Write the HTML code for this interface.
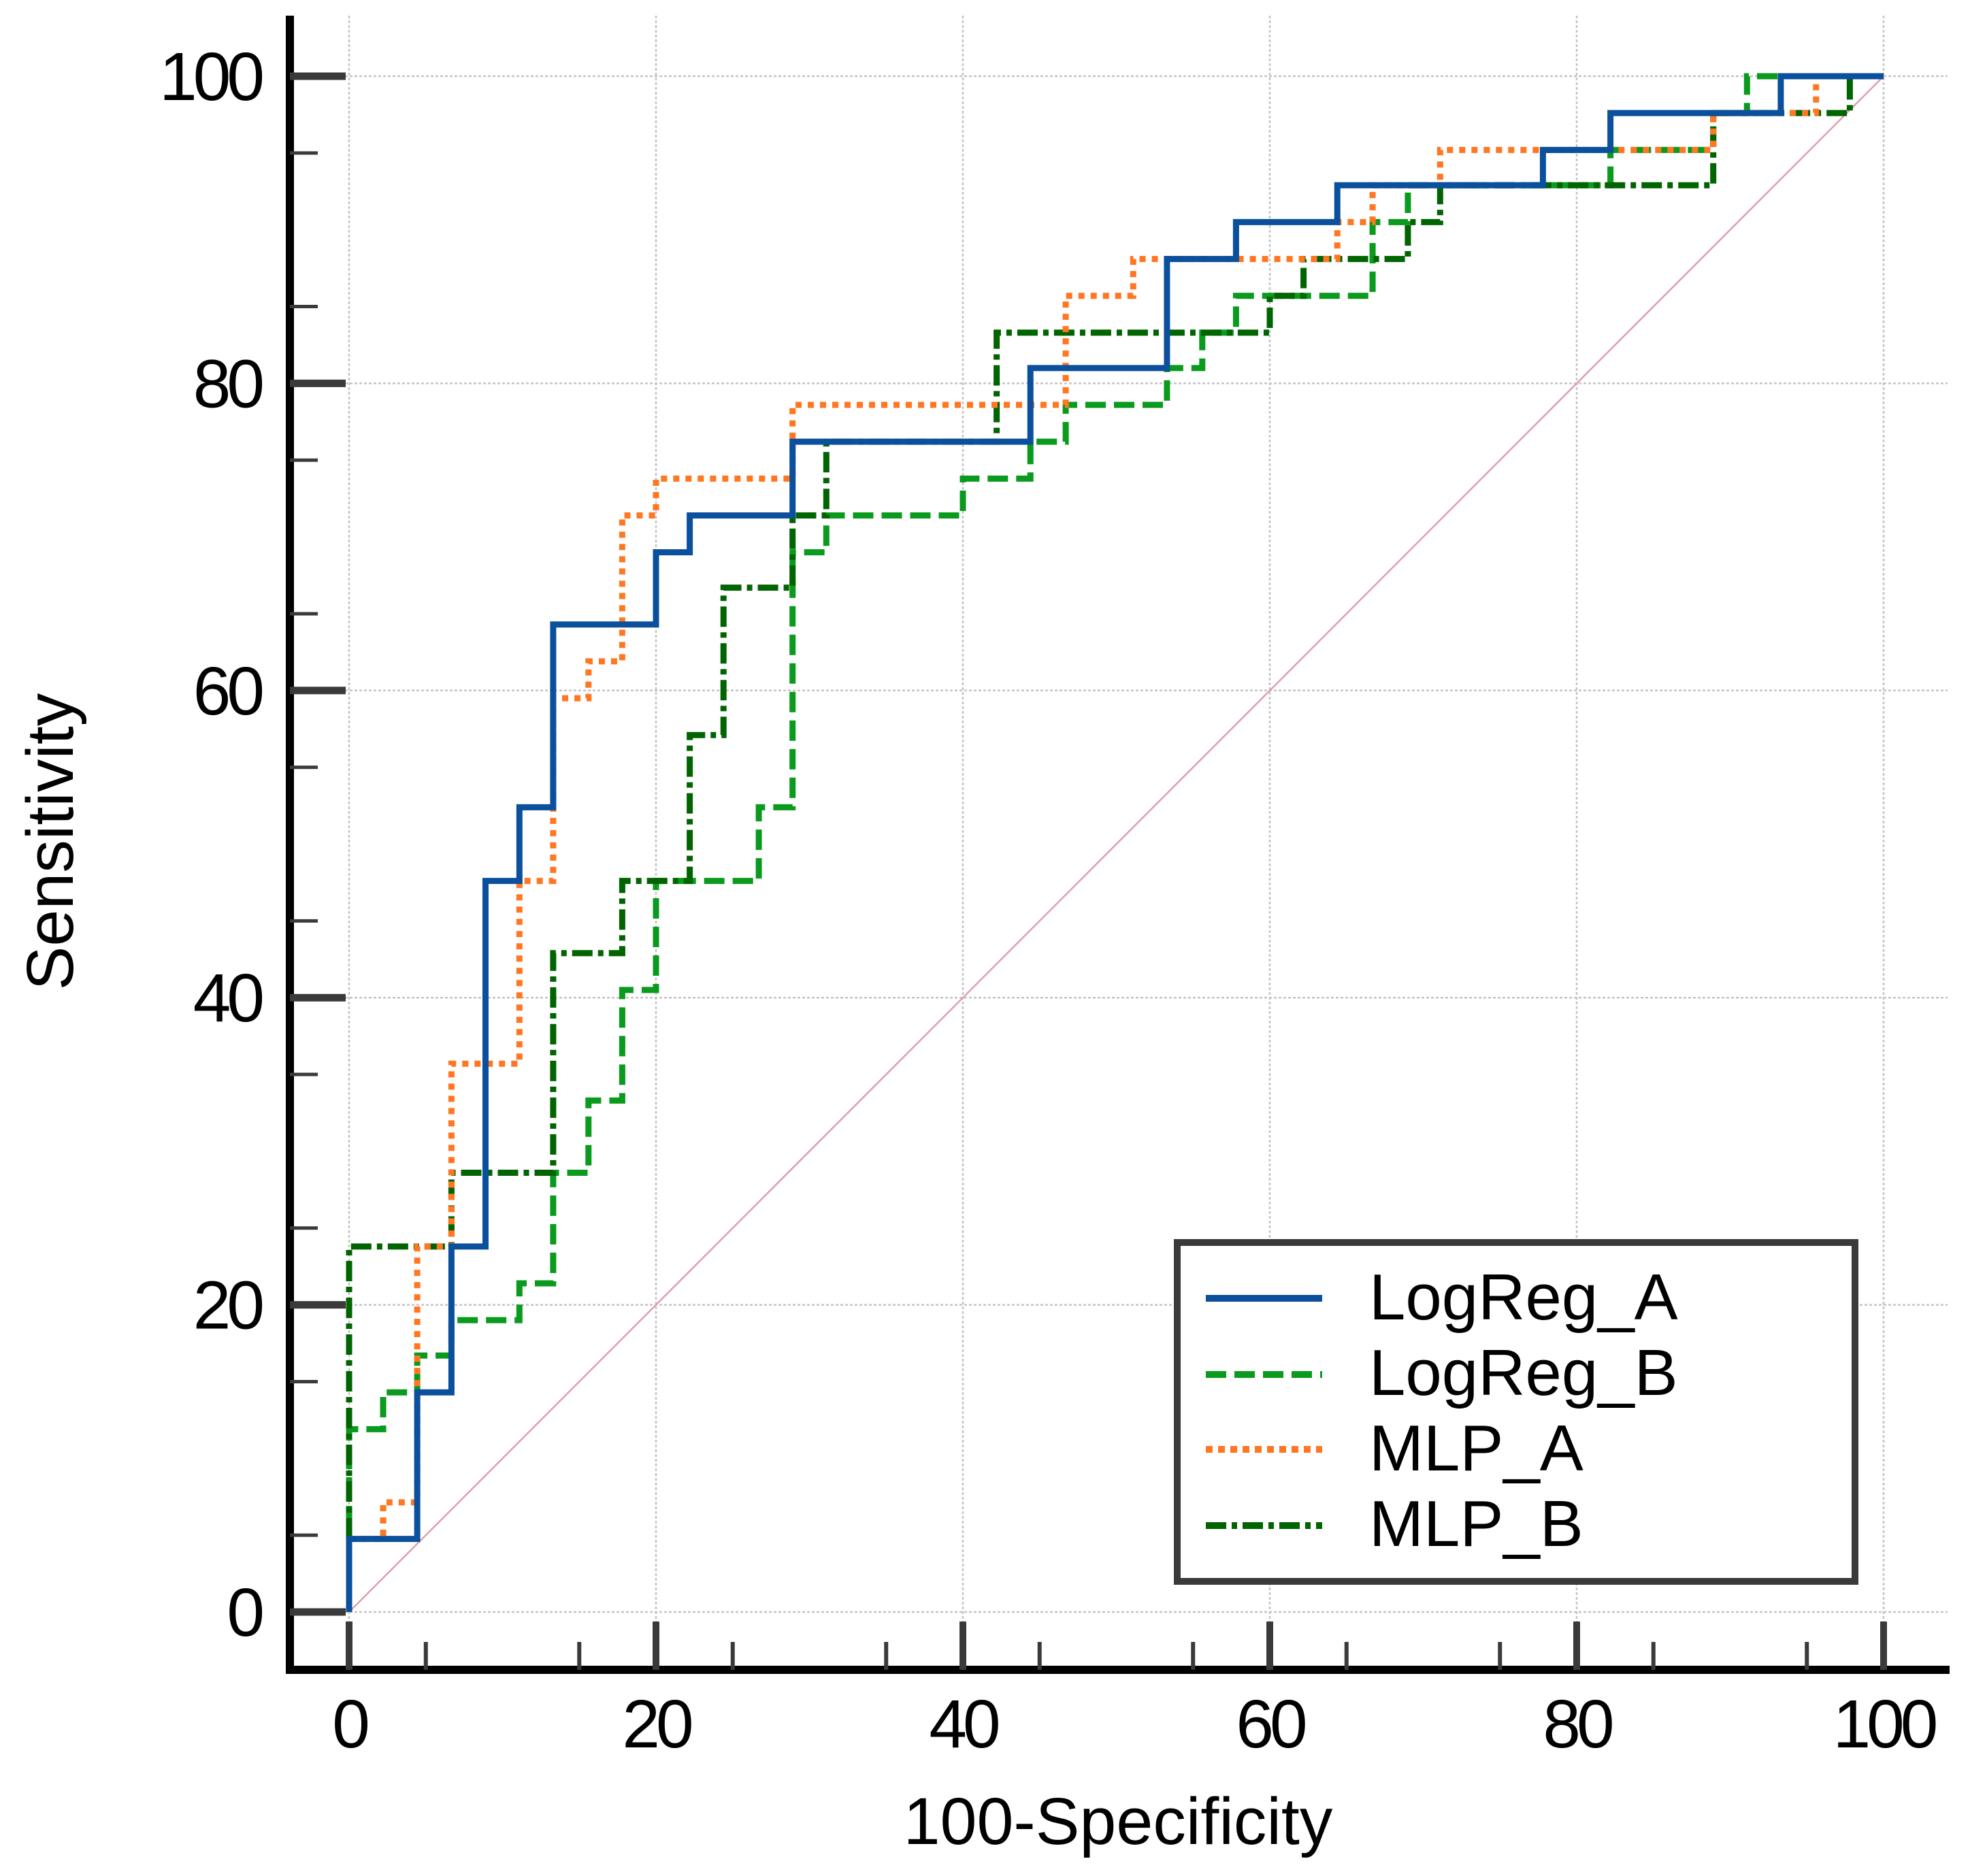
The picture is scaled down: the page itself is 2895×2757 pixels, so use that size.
<!DOCTYPE html>
<html><head><meta charset="utf-8"><style>
html,body{margin:0;padding:0;background:#fff;}
svg{display:block;font-family:"Liberation Sans",Arial,sans-serif;}
</style></head><body>
<svg id="chart" width="2895" height="2757" viewBox="0 0 2895 2757" xmlns="http://www.w3.org/2000/svg">
<g id="grid"></g>
<line id="diag" stroke="#d9a2aa" stroke-width="2.5"/>
<g id="series"></g>
<g id="axes"></g>
<text x="1643" y="2710" font-size="97" text-anchor="middle">100-Specificity</text>
<text transform="translate(107,1237) rotate(-90)" font-size="97" text-anchor="middle">Sensitivity</text>
<g>
<rect x="1730" y="1826" width="996" height="498" fill="#fff" stroke="#3a3a3a" stroke-width="10"/>
<g>
<line x1="1772" y1="1908" x2="1943" y2="1908" stroke="#0b509c" stroke-width="10"/>
<text x="2012" y="1939" font-size="96">LogReg_A</text></g>
<g>
<line x1="1772" y1="2020" x2="1943" y2="2020" stroke="#0a9a1e" stroke-width="10" stroke-dasharray="30 12"/>
<text x="2012" y="2050" font-size="96">LogReg_B</text></g>
<g>
<line x1="1772" y1="2130" x2="1943" y2="2130" stroke="#ff7722" stroke-width="10" stroke-dasharray="10 8"/>
<text x="2012" y="2161" font-size="96">MLP_A</text></g>
<g>
<line x1="1772" y1="2242" x2="1943" y2="2242" stroke="#006400" stroke-width="10" stroke-dasharray="30 8 8 8"/>
<text x="2012" y="2272" font-size="96">MLP_B</text></g>
</g>
</svg>
<script>
const xTicks = [0, 20, 40, 60, 80, 100];
const yTicks = [0, 20, 40, 60, 80, 100];
const xTickLabels = ["0", "20", "40", "60", "80", "100"];
const yTickLabels = ["0", "20", "40", "60", "80", "100"];
const logregAFpr = [0,0,4.44,6.67,8.89,11.1,13.3,20,22.2,28.9,44.4,53.3,57.8,64.4,77.8,82.2,93.3,100];
const logregATpr = [0,4.76,14.3,23.8,47.6,52.4,64.3,69.0,71.4,76.2,81.0,88.1,90.5,92.9,95.2,97.6,100,100];
const logregBFpr = [0,0,2.22,4.44,6.67,11.1,13.3,15.6,17.8,20,26.7,28.9,31.1,40,44.4,46.7,53.3,55.6,57.8,66.7,69.0,82.2,88.9,91.1,100];
const logregBTpr = [0,11.9,14.3,16.7,19.0,21.4,28.6,33.3,40.5,47.6,52.4,69.0,71.4,73.8,76.2,78.6,81.0,83.3,85.7,90.5,92.9,95.2,97.6,100,100];
const mlpAFpr = [0,0,2.22,4.44,6.67,11.1,13.3,15.6,17.8,20,28.9,46.7,51.1,64.4,66.7,71.1,88.9,95.6,100];
const mlpATpr = [0,4.76,7.14,23.8,35.7,47.6,59.5,61.9,71.4,73.8,78.6,85.7,88.1,90.5,92.9,95.2,97.6,100,100];
const mlpBFpr = [0,0,6.67,13.3,17.8,22.2,24.4,28.9,31.1,42.2,60,62.2,69.0,71.1,88.9,97.8,100];
const mlpBTpr = [0,23.8,28.6,42.9,47.6,57.1,66.7,71.4,76.2,83.3,85.7,88.1,90.5,92.9,97.6,100,100];

const NS = "http://www.w3.org/2000/svg";
const X0 = 513, X1 = 2768, Y0 = 2369, Y1 = 112;
function sx(v){ return X0 + (X1 - X0) * v / 100; }
function sy(v){ return Y0 - (Y0 - Y1) * v / 100; }
function mk(tag, attrs, parent){
  const e = document.createElementNS(NS, tag);
  for (const k in attrs) e.setAttribute(k, attrs[k]);
  parent.appendChild(e);
  return e;
}
const grid = document.getElementById('grid');
xTicks.forEach(v => {
  const l = mk('line', {x1: sx(v), x2: sx(v), y1: 23, y2: 2450, stroke: '#c4c4c4', 'stroke-width': 2.5, 'stroke-dasharray': '4 3'}, grid);
  
  
});
yTicks.forEach(v => {
  const l = mk('line', {x1: 430, x2: 2862, y1: sy(v), y2: sy(v), stroke: '#c4c4c4', 'stroke-width': 2.5, 'stroke-dasharray': '4 3'}, grid);
  
  
});
const diag = document.getElementById('diag');
diag.setAttribute('x1', sx(0)); diag.setAttribute('y1', sy(0));
diag.setAttribute('x2', sx(100)); diag.setAttribute('y2', sy(100));

const seriesG = document.getElementById('series');
function stepPath(fx, ty){
  let d = 'M' + sx(fx[0]) + ' ' + sy(ty[0]);
  for (let i = 1; i < fx.length; i++){
    d += ' H' + sx(fx[i]) + ' V' + sy(ty[i]);
  }
  return d;
}
const s1 = mk('path', {d: stepPath(logregBFpr, logregBTpr), fill: 'none', stroke: '#0a9a1e', 'stroke-width': 9, 'stroke-dasharray': '30 12'}, seriesG);


const s2 = mk('path', {d: stepPath(mlpBFpr, mlpBTpr), fill: 'none', stroke: '#006400', 'stroke-width': 9, 'stroke-dasharray': '30 8 8 8'}, seriesG);


const s3 = mk('path', {d: stepPath(mlpAFpr, mlpATpr), fill: 'none', stroke: '#ff7722', 'stroke-width': 9, 'stroke-dasharray': '9 9'}, seriesG);


const s4 = mk('path', {d: stepPath(logregAFpr, logregATpr), fill: 'none', stroke: '#0b509c', 'stroke-width': 9}, seriesG);



const axes = document.getElementById('axes');
const ya = mk('line', {x1: 426, x2: 426, y1: 23, y2: 2460, stroke: '#000', 'stroke-width': 12}, axes);


const xa = mk('line', {x1: 420, x2: 2865, y1: 2454, y2: 2454, stroke: '#000', 'stroke-width': 12}, axes);


for (let v = 5; v < 100; v += 10){
  const t = mk('line', {x1: 426, x2: 467, y1: sy(v), y2: sy(v), stroke: '#3a3a3a', 'stroke-width': 5}, axes);
  
  
  const u = mk('line', {x1: sx(v), x2: sx(v), y1: 2413, y2: 2454, stroke: '#3a3a3a', 'stroke-width': 6}, axes);
  
  
}
yTicks.forEach((v, i) => {
  const t = mk('line', {x1: 426, x2: 508, y1: sy(v), y2: sy(v), stroke: '#3a3a3a', 'stroke-width': 11}, axes);
  
  
  const lab = mk('text', {x: 383, y: sy(v) + 35, 'font-size': 100, 'text-anchor': 'end', 'letter-spacing': -6}, axes);
  lab.textContent = yTickLabels[i];
  
  
});
xTicks.forEach((v, i) => {
  const t = mk('line', {x1: sx(v), x2: sx(v), y1: 2383, y2: 2454, stroke: '#3a3a3a', 'stroke-width': 10}, axes);
  
  
  const lab = mk('text', {x: sx(v), y: 2568, 'font-size': 100, 'text-anchor': 'middle', 'letter-spacing': -6}, axes);
  lab.textContent = xTickLabels[i];
  
  
});
</script>
</body></html>
